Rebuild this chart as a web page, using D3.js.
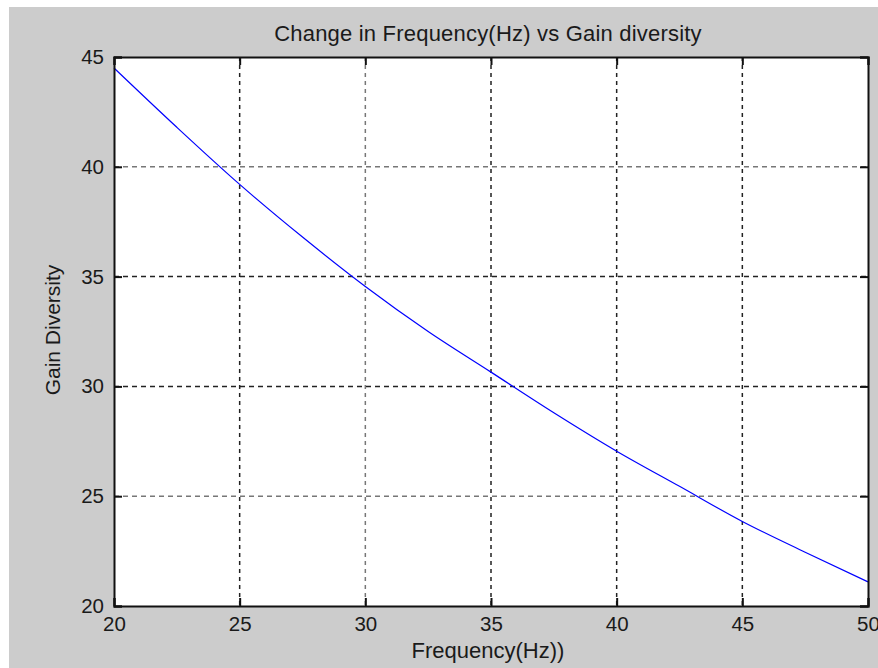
<!DOCTYPE html>
<html>
<head>
<meta charset="utf-8">
<script src="https://cdn.jsdelivr.net/npm/d3@7"></script>
<style>
  html, body { margin: 0; padding: 0; background: #fff; }
  text { font-family: "Liberation Sans", Arial, sans-serif; fill: #1a1a1a; }
</style>
</head>
<body>
<svg width="878" height="668"></svg>
<script>
// values
let freq = [20, 22.5, 25, 27.5, 30, 32.5, 35, 37.5, 40, 42.5, 45, 47.5, 50]
let gain = [44.5, 41.8, 39.2, 36.8, 34.55, 32.5, 30.65, 28.8, 27.05, 25.45, 23.85, 22.45, 21.1]
let xTicks = [20, 25, 30, 35, 40, 45, 50]
let yTicks = [20, 25, 30, 35, 40, 45]

let width = 878,
    height = 668,
    margin = ({ top: 57, right: 10, bottom: 62, left: 114 }) // plot box edges

let svg = d3.select("svg")

// gray figure background
svg.append("rect")
  .attr("x", 9).attr("y", 7)
  .attr("width", width - 9).attr("height", height - 7)
  .attr("fill", "#cccccc")

let xScale = d3.scaleLinear()
  .domain([20, 50])
  .range([margin.left, width - margin.right])

let yScale = d3.scaleLinear()
  .domain([20, 45])
  .range([height - margin.bottom, margin.top])

// white axes area
svg.append("rect")
  .attr("x", xScale(20)).attr("y", yScale(45))
  .attr("width", xScale(50) - xScale(20))
  .attr("height", yScale(20) - yScale(45))
  .attr("fill", "#fff")

// grid
let grid = svg.append("g").attr("class", "grid")
grid.selectAll(".vgrid")
  .data(xTicks.slice(1, -1))
  .join("line")
  .attr("x1", d => xScale(d)).attr("x2", d => xScale(d))
  .attr("y1", yScale(45)).attr("y2", yScale(20))
  .attr("stroke", (d, i) => i == 1 ? "#777" : "#222")
  .attr("stroke-width", 1.5)
  .attr("stroke-dasharray", "4,4")

grid.selectAll(".hgrid")
  .data(yTicks.slice(1, -1))
  .join("line")
  .attr("y1", d => yScale(d)).attr("y2", d => yScale(d))
  .attr("x1", xScale(20)).attr("x2", xScale(50))
  .attr("stroke", d => (d == 25 || d == 40) ? "#777" : "#222")
  .attr("stroke-width", 1.5)
  .attr("stroke-dasharray", "5,4")

// the curve
let line = d3.line()
  .x((d, i) => xScale(freq[i]))
  .y(d => yScale(d))
  .curve(d3.curveMonotoneX)

svg.append("path")
  .datum(gain)
  .attr("d", line)
  .attr("fill", "none")
  .attr("stroke", "#0000ff")
  .attr("stroke-width", 1.2)

// axes (ticks pointing in, like matlab)
let xAxis = d3.axisBottom(xScale).tickValues(xTicks).tickSize(-8).tickPadding(10)
let xAxisTop = d3.axisTop(xScale).tickValues(xTicks).tickSize(-8).tickFormat("")
let yAxis = d3.axisLeft(yScale).tickValues(yTicks).tickSize(-8).tickPadding(10)
let yAxisRight = d3.axisRight(yScale).tickValues(yTicks).tickSize(-8).tickFormat("")

svg.append("g")
  .attr("class", "axis")
  .attr("transform", `translate(0,${yScale(20)})`)
  .call(xAxis)

svg.append("g")
  .attr("class", "axis")
  .attr("transform", `translate(0,${yScale(45)})`)
  .call(xAxisTop)

svg.append("g")
  .attr("class", "axis")
  .attr("transform", `translate(${xScale(20)},0)`)
  .call(yAxis)

svg.append("g")
  .attr("class", "axis")
  .attr("transform", `translate(${xScale(50)},0)`)
  .call(yAxisRight)

svg.selectAll(".axis path").attr("stroke", "#111").attr("stroke-width", 2)
svg.selectAll(".axis line").attr("stroke", "#111").attr("stroke-width", 2)
svg.selectAll(".axis text")
  .attr("font-size", 20.5)
  .style("font-family", "Liberation Sans, Arial, sans-serif")
  .attr("fill", "#1a1a1a")

svg.append("text")
  .attr("class", "title")
  .attr("x", 488)
  .attr("y", 41)
  .attr("text-anchor", "middle")
  .attr("font-size", 22)
  .attr("letter-spacing", 0.2)
  .text("Change in Frequency(Hz) vs Gain diversity")

svg.append("text")
  .attr("x", 488)
  .attr("y", 658)
  .attr("text-anchor", "middle")
  .attr("font-size", 22)
  .text("Frequency(Hz))")

svg.append("text")
  .attr("transform", "translate(60,330) rotate(-90)")
  .attr("text-anchor", "middle")
  .attr("font-size", 21)
  .text("Gain Diversity")
</script>
</body>
</html>
